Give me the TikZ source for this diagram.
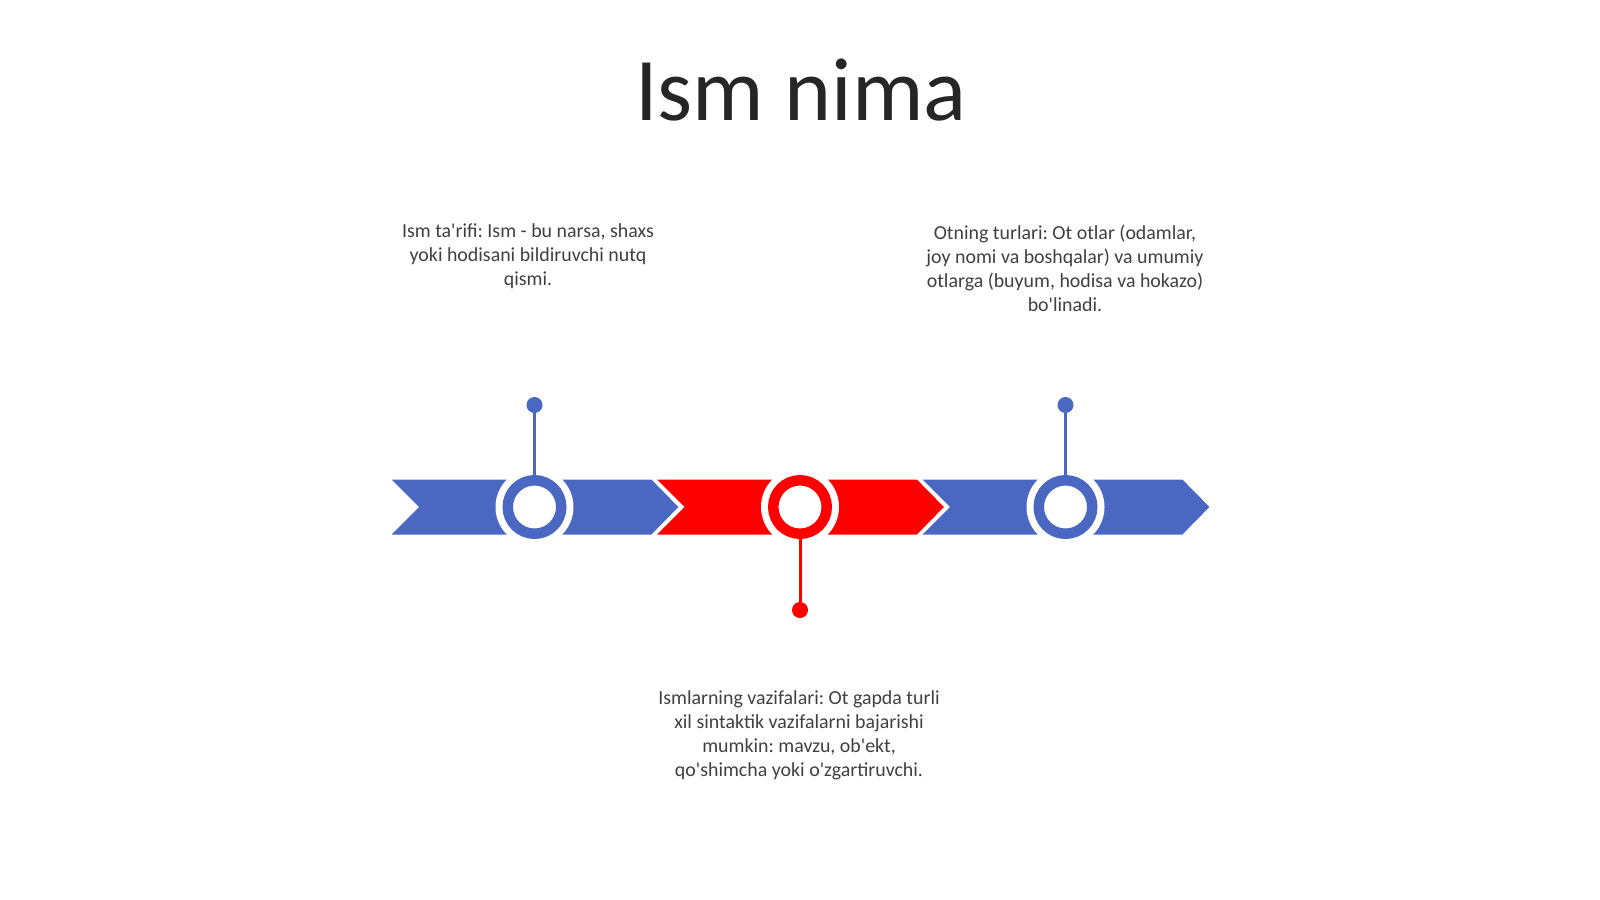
\documentclass[tikz,border=0pt]{standalone}
\usepackage{fontspec}
\setmainfont{Carlito}
\frenchspacing
\newcommand\ap{\textquotesingle}
\definecolor{tlblue}{HTML}{4A67C2}
\definecolor{tlred}{HTML}{FF0000}
\definecolor{txtgray}{HTML}{404040}
\definecolor{titlegray}{HTML}{262626}
\begin{document}
\begin{tikzpicture}[x=1pt,y=-1pt,
  chev/.style={draw=white,line width=2pt,line join=miter},
  halo/.style={circle,fill=white,inner sep=0pt,outer sep=0pt,minimum size=78pt},
  ring/.style={circle,fill=white,draw=#1,line width=10.5pt,inner sep=0pt,outer sep=0pt,minimum size=53.5pt},
  dot/.style={circle,fill=#1,inner sep=0pt,outer sep=0pt,minimum size=16pt},
  stem/.style={draw=#1,line width=3pt},
  body/.style={align=center,text=txtgray,font=\fontsize{19.9}{24}\selectfont,inner sep=0pt}]
\useasboundingbox (0,0) rectangle (1600,899);
\fill[white] (0,0) rectangle (1600,899);
% title
\node[text=titlegray,font=\fontsize{89.5}{105}\selectfont,anchor=base] (title) at (801,120) {Ism nima};
% chevrons
\foreach \c/\col in {534.5/tlblue,800/tlred,1065.5/tlblue}{
  \pgfmathsetmacro{\s}{\c-145.5}
  \filldraw[chev,fill=\col] (\s,478.5) -- (\s+263,478.5) -- (\s+291,507) -- (\s+263,535.5) -- (\s,535.5) -- (\s+28.5,507) -- cycle;
}
% halos and rings
\node[halo] (h1) at (534.5,507) {};
\node[halo] (h2) at (800,507) {};
\node[halo] (h3) at (1065.5,507) {};
\node[ring=tlblue] (r1) at (534.5,507) {};
\node[ring=tlred] (r2) at (800,507) {};
\node[ring=tlblue] (r3) at (1065.5,507) {};
% dots and stems
\node[dot=tlblue] (d1) at (534.5,405) {};
\node[dot=tlred] (d2) at (800,610) {};
\node[dot=tlblue] (d3) at (1065.5,405) {};
\draw[stem=tlblue] (d1) -- (r1);
\draw[stem=tlred] (d2) -- (r2);
\draw[stem=tlblue] (d3) -- (r3);
% texts
\node[body,anchor=base] (t1) at (528,285) {Ism ta\ap rifi: Ism - bu narsa, shaxs\\yoki hodisani bildiruvchi nutq\\qismi.};
\node[body,anchor=base] (t2) at (1065,311) {Otning turlari: Ot otlar (odamlar,\\joy nomi va boshqalar) va umumiy\\otlarga (buyum, hodisa va hokazo)\\bo\ap linadi.};
\node[body,anchor=base] (t3) at (799,776) {Ismlarning vazifalari: Ot gapda turli\\xil sintaktik vazifalarni bajarishi\\mumkin: mavzu, ob\ap ekt,\\qo\ap shimcha yoki o\ap zgartiruvchi.};
\end{tikzpicture}
\end{document}
